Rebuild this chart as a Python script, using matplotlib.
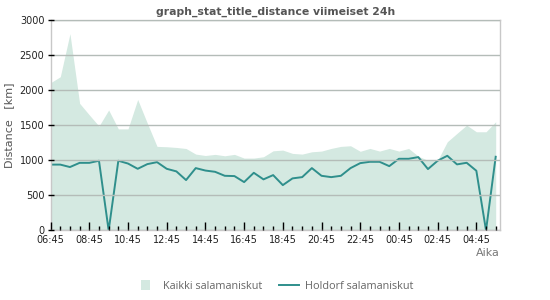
import matplotlib.pyplot as plt
from matplotlib.ticker import FixedLocator, MultipleLocator
from matplotlib.legend_handler import HandlerPatch
from matplotlib.patches import Rectangle
from matplotlib.transforms import ScaledTranslation

# half-hour samples, 06:45 -> 05:45
times = ["06:45", "07:15", "07:45", "08:15", "08:45", "09:15", "09:45", "10:15",
         "10:45", "11:15", "11:45", "12:15", "12:45", "13:15", "13:45", "14:15",
         "14:45", "15:15", "15:45", "16:15", "16:45", "17:15", "17:45", "18:15",
         "18:45", "19:15", "19:45", "20:15", "20:45", "21:15", "21:45", "22:15",
         "22:45", "23:15", "23:45", "00:15", "00:45", "01:15", "01:45", "02:15",
         "02:45", "03:15", "03:45", "04:15", "04:45", "05:15", "05:45"]

kaikki = [2110, 2195, 2810, 1815, 1650, 1490, 1720, 1450, 1450, 1870, 1530, 1200,
          1195, 1185, 1170, 1090, 1070, 1086, 1066, 1086, 1033, 1033, 1052, 1137,
          1147, 1100, 1090, 1123, 1133, 1171, 1200, 1209, 1130, 1171, 1133, 1171,
          1133, 1171, 1060, 1000, 1000, 1266, 1386, 1504, 1409, 1409, 1552]

holdorf = [940, 940, 905, 965, 965, 995, 0, 995, 955, 880, 947, 975, 880, 843,
           719, 890, 855, 837, 780, 776, 690, 823, 729, 790, 647, 743, 761, 890,
           780, 761, 780, 890, 961, 980, 980, 918, 1023, 1023, 1047, 876, 995,
           1066, 943, 966, 852, 0, 1052]

tick_labels = ["06:45", "08:45", "10:45", "12:45", "14:45", "16:45",
               "18:45", "20:45", "22:45", "00:45", "02:45", "04:45"]


def hours(t):
    h, m = map(int, t.split(":"))
    return ((h * 60 + m) - (6 * 60 + 45)) % (24 * 60) / 60


x = [hours(t) for t in times]
xt = [hours(t) for t in tick_labels]

fill_col = "#d4e9e1"
line_col = "#2f8f8c"
txt_col = "#555555"


class SquareHandler(HandlerPatch):
    # small square swatch instead of the wide default rectangle
    def create_artists(self, legend, orig, xd, yd, width, height, fontsize, trans):
        s = height * 1.3
        p = Rectangle((xd + width - s - 4, yd - (s - height) / 2), s, s,
                      facecolor=orig.get_facecolor(), linewidth=0, transform=trans)
        return [p]


fig = plt.figure(figsize=(5.5, 3), dpi=100)
ax = fig.add_axes([0.092, 0.232, 0.817, 0.7])

fb = ax.fill_between(x, kaikki, 0, color=fill_col, linewidth=0, label="Kaikki salamaniskut")
ax.plot(x, holdorf, color=line_col, linewidth=1.4, label="Holdorf salamaniskut")

ax.set_xlim(0, 23.22)
ax.set_ylim(0, 3000)
ax.yaxis.set_major_locator(MultipleLocator(500))
ax.xaxis.set_major_locator(FixedLocator(xt))
ax.xaxis.set_minor_locator(MultipleLocator(0.5))
ax.set_xticklabels(tick_labels)

ax.grid(axis="y", color="#b4bcb8", linewidth=1)
ax.set_axisbelow(False)
for s in ax.spines.values():
    s.set_color("#c8c8c8")
    s.set_linewidth(1)

ax.tick_params(axis="y", direction="inout", length=5, width=1, colors="black",
               labelsize=7, pad=2)
ax.tick_params(axis="x", which="major", direction="in", length=6, width=1,
               colors="black", labelsize=7, pad=3.5)
ax.tick_params(axis="x", which="minor", direction="in", length=3, width=1,
               colors="black")
for lbl in ax.get_xticklabels() + ax.get_yticklabels():
    lbl.set_color("#222222")

ax.set_title("graph_stat_title_distance viimeiset 24h", fontsize=7.8,
             fontweight="bold", color=txt_col, pad=4)
ax.set_ylabel("Distance   [km]", fontsize=8, color=txt_col, labelpad=4)
fig.text(0.908, 0.158, "Aika", fontsize=8, color="#777777", ha="right", va="center")

leg = fig.legend(loc="center", bbox_to_anchor=(0.5, 0.045), ncol=2, frameon=False,
                 handlelength=1.8, handletextpad=0.6, columnspacing=1.6,
                 prop={"family": "Open Sans", "size": 7.8},
                 handler_map={type(fb): SquareHandler()})
for t in leg.get_texts():
    t.set_color("#666666")

# nudge the "0" label up/left a little so it clears the first time label
fig.canvas.draw()
zero = ax.yaxis.get_major_ticks()[0].label1
zero.set_transform(zero.get_transform() + ScaledTranslation(-1 / 72, 4 / 72, fig.dpi_scale_trans))

fig.savefig("out.png", dpi=100)
